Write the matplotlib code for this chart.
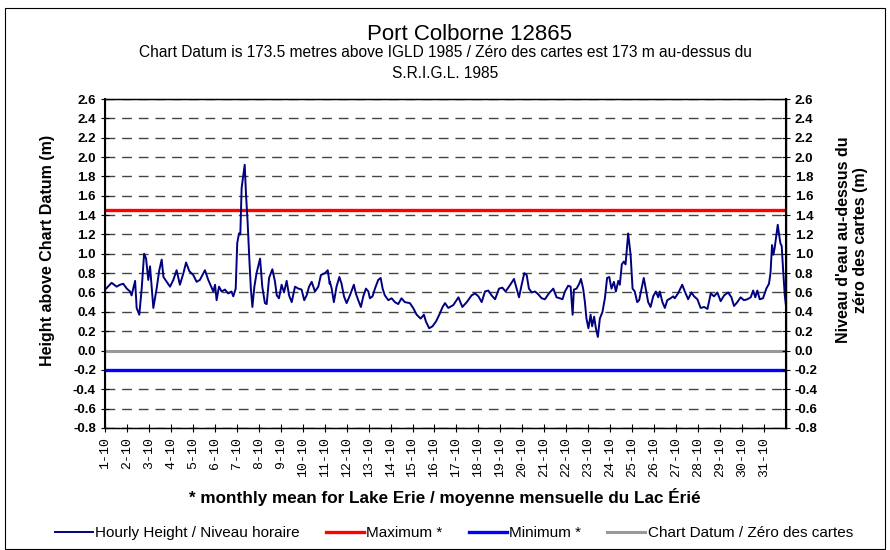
import matplotlib
matplotlib.use('Agg')
import matplotlib.pyplot as plt
from matplotlib.patches import Rectangle

plt.rcParams['font.family'] = ['Liberation Sans', 'DejaVu Sans']

# time in days since 1 Oct 00:00, water level in metres above chart datum
day = [0.00, 0.05, 0.30, 0.53, 0.68, 0.83, 0.99, 1.14, 1.21, 1.37, 1.44, 1.56,
       1.67, 1.78, 1.87, 1.97, 2.05, 2.20, 2.35, 2.47, 2.58, 2.66, 2.81, 2.96,
       3.11, 3.26, 3.41, 3.57, 3.69, 3.84, 4.02, 4.17, 4.32, 4.55, 4.70, 4.93,
       5.01, 5.08, 5.19, 5.31, 5.46, 5.61, 5.76, 5.84, 5.95, 6.02, 6.10, 6.16,
       6.22, 6.30, 6.36, 6.42, 6.49, 6.57, 6.64, 6.71, 6.80, 6.90, 7.06, 7.16,
       7.28, 7.36, 7.47, 7.62, 7.74, 7.82, 7.92, 8.04, 8.15, 8.27, 8.38, 8.50,
       8.65, 8.80, 8.95, 9.07, 9.18, 9.29, 9.41, 9.56, 9.71, 9.83, 10.02, 10.14,
       10.23, 10.24, 10.32, 10.42, 10.54, 10.67, 10.77, 10.88, 11.00, 11.15,
       11.33, 11.42, 11.53, 11.65, 11.76, 11.88, 11.99, 12.06, 12.18, 12.29,
       12.44, 12.55, 12.64, 12.74, 12.90, 13.05, 13.20, 13.35, 13.50, 13.65,
       13.88, 14.03, 14.19, 14.37, 14.52, 14.61, 14.76, 14.91, 15.07, 15.22,
       15.37, 15.48, 15.63, 15.86, 16.09, 16.27, 16.47, 16.69, 16.85, 17.00,
       17.15, 17.30, 17.45, 17.60, 17.76, 17.94, 18.09, 18.24, 18.39, 18.48,
       18.62, 18.74, 18.85, 18.97, 19.09, 19.20, 19.30, 19.43, 19.58, 19.73,
       19.88, 20.03, 20.21, 20.41, 20.56, 20.71, 20.83, 20.94, 21.09, 21.20,
       21.29, 21.35, 21.47, 21.59, 21.67, 21.77, 21.85, 21.92, 22.01, 22.11,
       22.18, 22.27, 22.35, 22.44, 22.53, 22.65, 22.76, 22.86, 22.96, 23.06,
       23.17, 23.26, 23.37, 23.44, 23.53, 23.62, 23.70, 23.82, 23.93, 24.02,
       24.12, 24.23, 24.32, 24.43, 24.53, 24.62, 24.73, 24.84, 24.96, 25.08,
       25.19, 25.26, 25.38, 25.49, 25.60, 25.75, 25.87, 25.94, 26.09, 26.28,
       26.40, 26.55, 26.70, 26.82, 26.97, 27.12, 27.28, 27.43, 27.58, 27.73,
       27.88, 28.03, 28.19, 28.37, 28.52, 28.64, 28.79, 28.94, 29.09, 29.25,
       29.40, 29.51, 29.61, 29.70, 29.81, 29.96, 30.11, 30.23, 30.30, 30.37,
       30.43, 30.49, 30.57, 30.63, 30.69, 30.75, 30.81, 30.87, 30.95, 31.00]
level = [0.63, 0.64, 0.70, 0.66, 0.68, 0.69, 0.64, 0.61, 0.57, 0.72, 0.44, 0.37,
         0.64, 1.00, 0.95, 0.73, 0.87, 0.44, 0.64, 0.83, 0.94, 0.76, 0.71, 0.66,
         0.73, 0.83, 0.68, 0.80, 0.91, 0.82, 0.78, 0.71, 0.73, 0.83, 0.73, 0.61,
         0.68, 0.52, 0.66, 0.61, 0.63, 0.59, 0.61, 0.56, 0.64, 1.11, 1.21, 1.20,
         1.68, 1.82, 1.92, 1.61, 1.34, 0.95, 0.64, 0.45, 0.66, 0.80, 0.95, 0.66,
         0.49, 0.48, 0.75, 0.84, 0.71, 0.57, 0.54, 0.68, 0.60, 0.72, 0.57, 0.50,
         0.66, 0.64, 0.63, 0.52, 0.57, 0.66, 0.71, 0.61, 0.66, 0.78, 0.80, 0.83,
         0.69, 0.71, 0.64, 0.50, 0.66, 0.76, 0.69, 0.56, 0.49, 0.57,
         0.68, 0.59, 0.52, 0.45, 0.56, 0.64, 0.61, 0.54, 0.56, 0.64,
         0.73, 0.75, 0.64, 0.57, 0.52, 0.54, 0.50, 0.48, 0.54, 0.50,
         0.49, 0.44, 0.37, 0.33, 0.37, 0.30, 0.23, 0.25, 0.30, 0.37,
         0.45, 0.49, 0.44, 0.47, 0.55, 0.45, 0.50, 0.57, 0.59, 0.56,
         0.50, 0.61, 0.62, 0.57, 0.53, 0.64, 0.65, 0.61, 0.66, 0.69,
         0.74, 0.64, 0.55, 0.68, 0.80, 0.78, 0.64, 0.60, 0.61, 0.58,
         0.54, 0.53, 0.59, 0.64, 0.55, 0.54, 0.53, 0.61, 0.67, 0.66,
         0.37, 0.63, 0.64, 0.69, 0.74, 0.64, 0.50, 0.33, 0.23, 0.37,
         0.25, 0.35, 0.23, 0.14, 0.33, 0.40, 0.54, 0.75, 0.76, 0.64,
         0.71, 0.61, 0.72, 0.68, 0.89, 0.92, 0.89, 1.21, 0.99, 0.64,
         0.61, 0.50, 0.52, 0.64, 0.75, 0.64, 0.50, 0.45, 0.56, 0.61,
         0.55, 0.61, 0.50, 0.44, 0.52, 0.54, 0.56, 0.54, 0.59, 0.68,
         0.61, 0.53, 0.60, 0.56, 0.53, 0.44, 0.45, 0.43, 0.59, 0.56,
         0.60, 0.51, 0.57, 0.60, 0.55, 0.46, 0.50, 0.55, 0.52, 0.53,
         0.55, 0.62, 0.55, 0.62, 0.53, 0.54, 0.64, 0.69, 0.80, 1.09,
         0.99, 1.06, 1.20, 1.30, 1.20, 1.11, 1.08, 0.85, 0.57, 0.47]

maximum = 1.45
minimum = -0.20
datum = 0.0
yticks = [round(-0.8 + 0.2 * i, 1) for i in range(18)]
day_labels = ['%d-10' % d for d in range(1, 32)]

fig = plt.figure(figsize=(8.9, 5.5), dpi=100)
fig.patches.append(Rectangle((0.006, 0.002), 0.988, 0.983, transform=fig.transFigure,
                             fill=False, edgecolor='black', linewidth=0.8))
ax = fig.add_axes([0.118, 0.222, 0.765, 0.598])

for y in yticks:
    ax.axhline(y, color='#444444', linewidth=1.0, linestyle=(0, (7, 5)), zorder=1)
h_dat = ax.axhline(datum, color='#999999', linewidth=2.2, zorder=2)
h_max = ax.axhline(maximum, color='#ff0000', linewidth=2.4, zorder=2)
h_min = ax.axhline(minimum, color='#0000ff', linewidth=2.4, zorder=2)
h_hr, = ax.plot(day, level, color='#000080', linewidth=1.4, zorder=3)

ax.set_xlim(0, 31)
ax.set_ylim(-0.8, 2.6)
ax.set_yticks(yticks)
ax.set_yticklabels(['%.1f' % v for v in yticks], fontweight='bold', fontsize=9.5)
ax.set_xticks(range(31))
ax.set_xticklabels(day_labels, rotation=90, fontsize=9.5, family='Liberation Mono')
ax.tick_params(axis='both', direction='inout', length=6, width=0.8)
for s in ax.spines.values():
    s.set_linewidth(1.0)
ax.spines['left'].set_linewidth(1.5)

ax2 = ax.twinx()
ax2.set_ylim(-0.8, 2.6)
ax2.set_yticks(yticks)
ax2.set_yticklabels(['%.1f' % v for v in yticks], fontweight='bold', fontsize=9.5)
ax2.tick_params(axis='y', direction='inout', length=6, width=0.8)
ax2.spines['right'].set_linewidth(1.5)

# axis titles, placed as in the reference (slightly above the axes centre)
fig.text(0.053, 0.544, 'Height above Chart Datum (m)', rotation=90, ha='center',
         va='center', fontweight='bold', fontsize=11.5)
fig.text(0.957, 0.564, "Niveau d'eau au-dessus du\nzéro des cartes (m)", rotation=90,
         ha='center', va='center', fontweight='bold', fontsize=11.5, linespacing=1.2)

fig.text(0.527, 0.938, 'Port Colborne 12865', ha='center', va='center', fontsize=16)
fig.text(0.5, 0.904, 'Chart Datum is 173.5 metres above IGLD 1985 / Zéro des cartes est 173 m au-dessus du',
         ha='center', va='center', fontsize=11.2)
fig.text(0.5, 0.867, 'S.R.I.G.L. 1985', ha='center', va='center', fontsize=11.2)
fig.text(0.5, 0.097, '* monthly mean for Lake Erie / moyenne mensuelle du Lac Érié',
         ha='center', va='center', fontsize=12.3, fontweight='bold')

fig.legend([h_hr, h_max, h_min, h_dat],
           ['Hourly Height / Niveau horaire', 'Maximum *', 'Minimum *',
            'Chart Datum / Zéro des cartes'],
           loc='center', bbox_to_anchor=(0.51, 0.031), ncol=4, frameon=False,
           fontsize=11, handlelength=2.5, handletextpad=0.15, columnspacing=1.7)

fig.savefig('out.png', dpi=100)
